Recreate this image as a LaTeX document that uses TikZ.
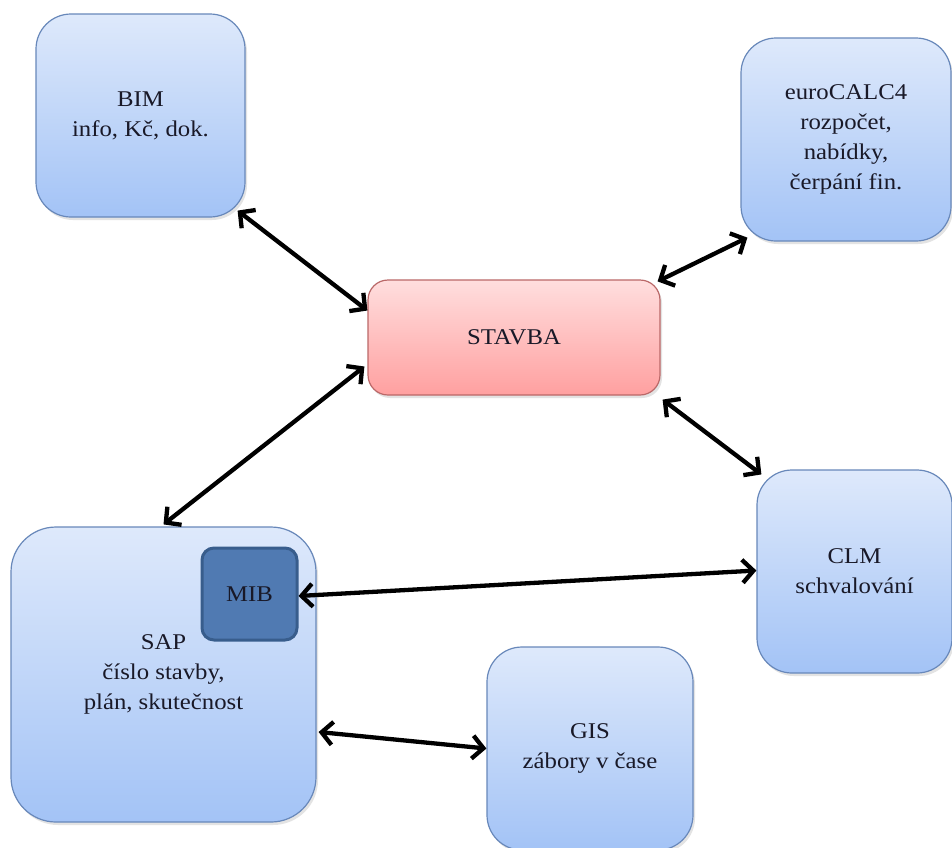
\documentclass[tikz,border=0pt]{standalone}
\usepackage{fontspec}
\setmainfont{Liberation Serif}[FakeStretch=1.1]
\usetikzlibrary{arrows.meta,shadows}
\definecolor{bluetop}{RGB}{222,233,251}
\definecolor{bluebot}{RGB}{163,195,246}
\definecolor{bordblue}{RGB}{104,136,186}
\definecolor{pinktop}{RGB}{255,222,222}
\definecolor{pinkbot}{RGB}{255,160,160}
\definecolor{bordpink}{RGB}{186,104,104}
\definecolor{mibfill}{RGB}{80,122,178}
\definecolor{mibdraw}{RGB}{56,93,140}
\definecolor{txt}{RGB}{25,25,40}
\tikzset{
  box/.style={rectangle, draw=bordblue, line width=1.2pt, top color=bluetop, bottom color=bluebot,
    align=center, inner sep=0pt, text=txt, font=\fontsize{22.5}{30}\selectfont,
    drop shadow={opacity=0.22, shadow xshift=2pt, shadow yshift=-3pt}},
  pinkbox/.style={box, draw=bordpink, top color=pinktop, bottom color=pinkbot},
  mibbox/.style={rectangle, draw=mibdraw, line width=3pt, fill=mibfill, rounded corners=12pt,
    inner sep=0pt, text=txt, font=\fontsize{22.5}{30}\selectfont},
  link/.style={line width=4.3pt, black, {Straight Barb[length=11pt,width=23pt,line width=4.3pt]}-{Straight Barb[length=11pt,width=23pt,line width=4.3pt]}}
}
\begin{document}
\begin{tikzpicture}[x=1pt,y=-1pt]
\fill[white] (0,0) rectangle (952,847);
\useasboundingbox (0,0) rectangle (952,847);

\node[box, rounded corners=35pt, minimum width=209pt, minimum height=203pt] (bim) at (140.5,115.5) {BIM\\info, Kč, dok.};
\node[box, rounded corners=35pt, minimum width=210pt, minimum height=203pt] (euro) at (846,139.5) {euroCALC4\\rozpočet,\\nabídky,\\čerpání fin.};
\node[pinkbox, rounded corners=20pt, minimum width=292pt, minimum height=115pt] (stavba) at (514,337.5) {STAVBA};
\node[box, rounded corners=45pt, minimum width=305pt, minimum height=295pt] (sap) at (163.5,674.5) {SAP\\číslo stavby,\\plán, skutečnost};
\node[mibbox, minimum width=95pt, minimum height=92pt] (mib) at (249.5,594) {MIB};
\node[box, rounded corners=35pt, minimum width=195pt, minimum height=203pt] (clm) at (854.5,571.5) {CLM\\schvalování};
\node[box, rounded corners=35pt, minimum width=206pt, minimum height=203pt] (gis) at (590,748.5) {GIS\\zábory v čase};

\draw[link] ([xshift=-8pt,yshift=7pt]bim.south east) -- ([yshift=27pt]stavba.west);
\draw[link] ([xshift=-3pt,yshift=-2pt]stavba.north east) -- ([xshift=7pt,yshift=4pt]euro.south west);
\draw[link] ([xshift=-3pt,yshift=-29pt]stavba.west) -- ([yshift=2pt]sap.north);
\draw[link] ([xshift=2pt,yshift=-4pt]stavba.south east) -- ([xshift=5pt,yshift=-5pt]clm.north west);
\draw[link] ([yshift=-2pt]mib.east) -- ([yshift=1pt]clm.west);
\draw[link] ([xshift=2pt,yshift=-57.5pt]sap.east) -- (gis.west);
\end{tikzpicture}
\end{document}
